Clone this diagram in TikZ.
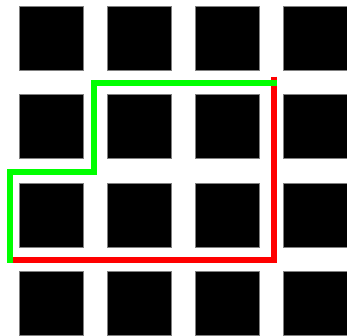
\documentclass[tikz,border=0pt]{standalone}
\begin{document}
\begin{tikzpicture}[x=1pt,y=-1pt,
  cell/.style={fill=black,draw=gray,line width=0.6pt},
  route/.style={line width=6pt,line cap=butt,line join=miter}]
\useasboundingbox (0,0) rectangle (347,335);
\foreach \i in {0,1,2,3}{
  \foreach \j in {0,1,2,3}{
    \path[cell] ({19.5+88*\i},{6+88.4*\j}) rectangle ++(64,64);
  }
}
\coordinate (r0) at (273.7,76.7);
\coordinate (r1) at (273.7,260.3);
\coordinate (r2) at (9.7,260.3);
\draw[route,red] (r0) -- (r1) -- (r2);
\coordinate (g0) at (276.7,82.5);
\coordinate (g1) at (94.3,82.5);
\coordinate (g2) at (94.3,172.3);
\coordinate (g3) at (9.7,172.3);
\coordinate (g4) at (9.7,263.3);
\draw[route,green] (g0) -- (g1) -- (g2) -- (g3) -- (g4);
\end{tikzpicture}
\end{document}
